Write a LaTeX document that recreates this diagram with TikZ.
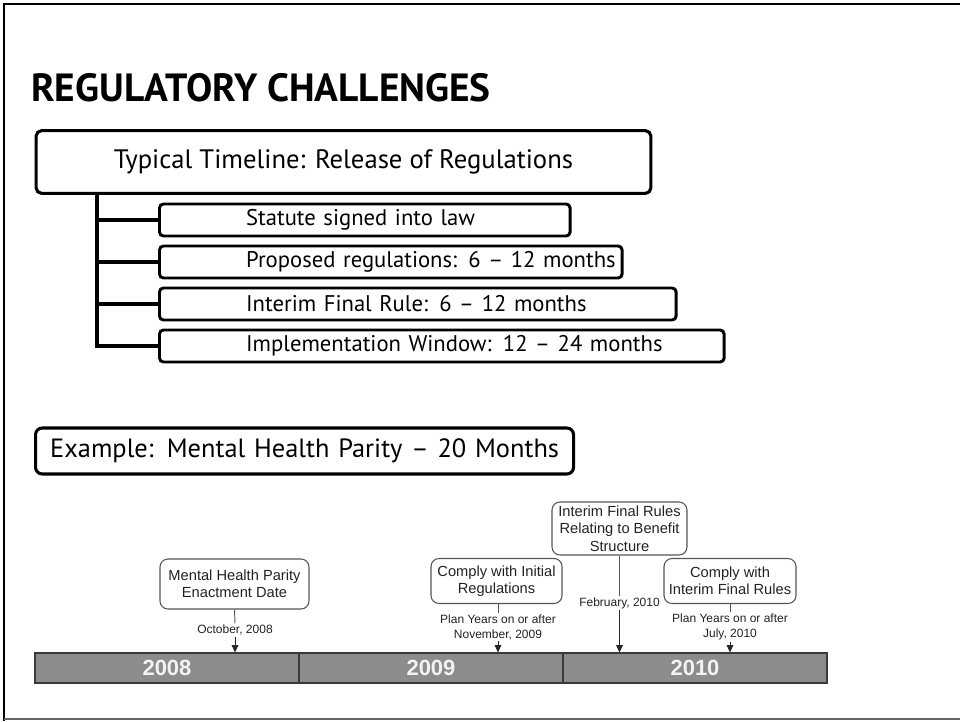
\documentclass[tikz,border=0pt]{standalone}
\usepackage{fontspec}
\setmainfont{PT Sans}
\newfontfamily\tlfont{Liberation Sans}
\usetikzlibrary{arrows.meta}
\definecolor{barfill}{HTML}{8C8C8C}
\definecolor{bardraw}{HTML}{3A3A3A}
\definecolor{tlgray}{HTML}{555555}
\definecolor{txtgray}{HTML}{222222}
\tikzset{
  mainbox/.style={draw=black, line width=2.3pt, rounded corners=4pt, inner sep=0pt, align=center,
    font=\fontsize{20}{23}\selectfont},
  subbox/.style={draw=black, line width=2.2pt, rounded corners=3pt, anchor=west, inner xsep=0pt, inner ysep=0pt,
    minimum height=24pt, align=left, font=\fontsize{17}{20}\selectfont},
  exbox/.style={draw=black, line width=2.3pt, rounded corners=5pt, anchor=west, inner xsep=0pt, inner ysep=0pt,
    minimum height=34.5pt, align=left, font=\fontsize{19.8}{22}\selectfont},
  tree/.style={line width=2.3pt, black},
  tlbox/.style={draw=tlgray, line width=0.8pt, rounded corners=6pt, inner sep=0pt, align=center,
    text=txtgray, font=\tlfont\fontsize{11}{13}\selectfont},
  tllabel/.style={inner sep=1pt, align=center, text=txtgray, font=\tlfont\fontsize{9}{11.25}\selectfont},
  yearseg/.style={draw=bardraw, fill=barfill, line width=0.8pt, minimum width=198pt, minimum height=22.5pt,
    inner sep=0pt, text=white!95!black, font=\tlfont\bfseries\fontsize{16.5}{18}\selectfont},
  stem/.style={draw=tlgray, line width=0.7pt},
  arr/.style={draw=black!85, line width=0.7pt, -{Triangle[width=5pt,length=5.5pt]}}
}
\begin{document}
\begin{tikzpicture}[x=0.75pt,y=-0.75pt]
\useasboundingbox (0,0) rectangle (960,721);
% frame
\draw[line width=1.6pt, black] (4,721) -- (4,4) -- (962,4);
\draw[line width=1.6pt, black!60] (4,719) -- (962,719);
% title
\node[anchor=base west, inner sep=0pt, font=\bfseries\fontsize{29.5}{33}\selectfont] (title) at (31,101) {REGULATORY CHALLENGES};
% main box
\node[mainbox, minimum width=461pt, minimum height=47pt] (typ) at (343.5,162) {Typical Timeline: Release of Regulations};
% sub boxes
\node[subbox, text width=308pt] (s1) at (158,220) {\hspace*{65pt}Statute signed into law};
\node[subbox, text width=347pt] (s2) at (158,262) {\hspace*{65pt}Proposed regulations: 6 – 12 months};
\node[subbox, text width=387.5pt] (s3) at (158,304) {\hspace*{65pt}Interim Final Rule: 6 – 12 months};
\node[subbox, text width=423.5pt] (s4) at (158,346) {\hspace*{65pt}Implementation Window: 12 – 24 months};
\coordinate (trunk) at (97,195);
\draw[tree] (trunk) -- (trunk |- s4.west) -- (s4.west);
\draw[tree] (trunk |- s1.west) -- (s1.west);
\draw[tree] (trunk |- s2.west) -- (s2.west);
\draw[tree] (trunk |- s3.west) -- (s3.west);
% example box
\node[exbox, text width=403.5pt] (ex) at (34,451) {\hspace*{11pt}Example: Mental Health Parity – 20 Months};
% timeline bar
\node[yearseg] (y2008) at (167,668) {2008};
\node[yearseg] (y2009) at (431,668) {2009};
\node[yearseg] (y2010) at (695,668) {2010};
% event boxes
\node[tlbox, minimum width=111.75pt, minimum height=37.5pt] (mhp) at (234.5,584) {Mental Health Parity\\Enactment Date};
\node[tlbox, minimum width=98.25pt, minimum height=33.75pt] (ci) at (496.5,581) {Comply with Initial\\Regulations};
\node[tlbox, minimum width=101.25pt, minimum height=39.75pt] (ifr) at (619.5,528.5) {Interim Final Rules\\Relating to Benefit\\Structure};
\node[tlbox, minimum width=99pt, minimum height=33.75pt] (cif) at (730,581) {Comply with\\Interim Final Rules};
% date labels
\node[tllabel] (oct) at (235,630) {October, 2008};
\node[tllabel] (nov) at (498,627) {Plan Years on or after\\November, 2009};
\node[tllabel] (feb) at (619.5,603) {February, 2010};
\node[tllabel] (jul) at (730,627) {Plan Years on or after\\July, 2010};
% connectors
\draw[stem] (mhp.south) -- (oct.north);
\draw[arr] (oct.south) -- (oct.south |- y2008.north);
\draw[stem] (ci.south -| nov.north) -- (nov.north);
\draw[arr] (nov.south) -- (nov.south |- y2009.north);
\draw[stem] (ifr.south) -- (feb.north);
\draw[arr] (feb.south) -- (feb.south |- y2010.north);
\draw[stem] (cif.south) -- (jul.north);
\draw[arr] (jul.south) -- (jul.south |- y2010.north);
\end{tikzpicture}
\end{document}
